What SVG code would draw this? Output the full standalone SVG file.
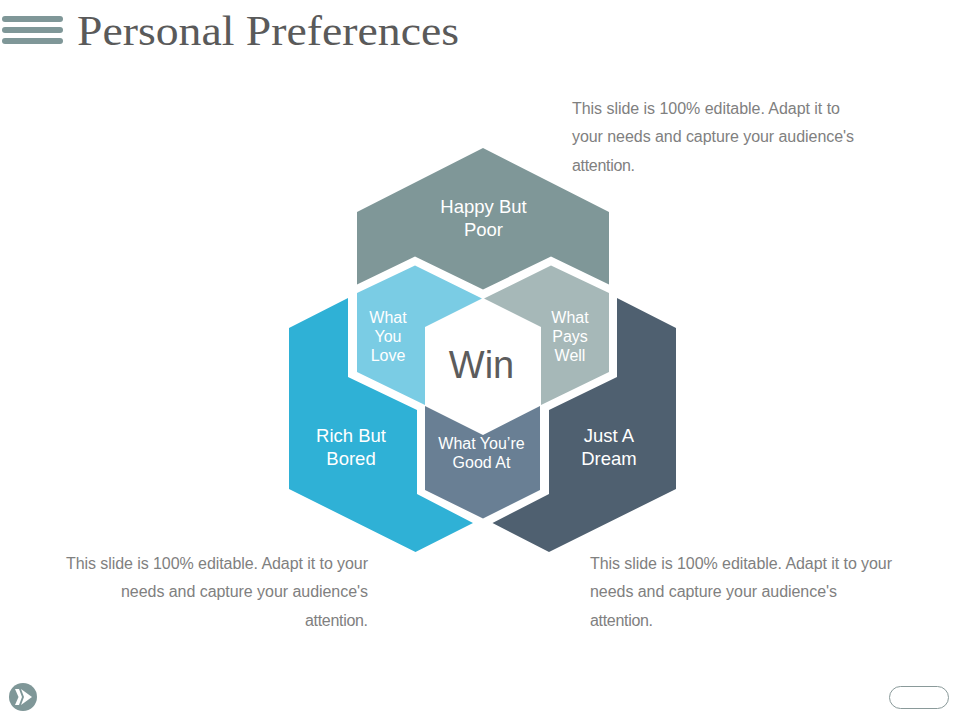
<svg xmlns="http://www.w3.org/2000/svg" width="960" height="720" viewBox="0 0 960 720">
<style>
text{font-family:"Liberation Sans",Arial,sans-serif}
.title{font-family:"Liberation Serif","Times New Roman",serif;font-size:42px;fill:#5a5a5a}
.body{font-size:16px;fill:#808080}
.r{text-anchor:end}
.big{font-size:18.5px;fill:#fff;text-anchor:middle}
.small{font-size:16px;fill:#fff;text-anchor:middle}
.bar{fill:#7f9798}
</style>
<rect width="960" height="720" fill="#fff"/>
<g id="header">
<rect class="bar" x="2" y="16" width="61" height="6" rx="3"/>
<rect class="bar" x="2" y="27" width="61" height="6" rx="3"/>
<rect class="bar" x="2" y="38" width="61" height="6" rx="3"/>
<text class="title" x="77" y="45" textLength="382" lengthAdjust="spacingAndGlyphs">Personal Preferences</text>
</g>
<g id="node-happy">
<polygon fill="#7f9798" points="483,148 609,212 609,284.500 551,256.500 483,289.500 415,256.500 357,284.500 357,212"/>
<text class="big" x="483.500" y="213">Happy But</text><text class="big" x="483.500" y="236">Poor</text>
</g>
<g id="node-rich">
<polygon fill="#2fb1d6" points="348,298 289,328 289,489 415.500,552 473,523 417,494 417,410 348,377"/>
<text class="big" x="351" y="442">Rich But</text><text class="big" x="351" y="465">Bored</text>
</g>
<g id="node-dream">
<polygon fill="#4f6070" points="617,298 676,328 676,489 549,552 492.500,523 549,494 549,410 617,377"/>
<text class="big" x="609" y="442">Just A</text><text class="big" x="609" y="465">Dream</text>
</g>
<g id="node-love">
<polygon fill="#7accE4" points="415,265.500 482,298.500 425,327 425,405 357,372 357,293"/>
<text class="small" x="388" y="323">What</text><text class="small" x="388" y="342">You</text><text class="small" x="388" y="361">Love</text>
</g>
<g id="node-pays">
<polygon fill="#a6b8b8" points="551,265.500 609,293 609,372 541,405 541,327 484,298.500"/>
<text class="small" x="570" y="323">What</text><text class="small" x="570" y="342">Pays</text><text class="small" x="570" y="361">Well</text>
</g>
<g id="node-good">
<polygon fill="#697f94" points="425,406 483,435 540,406 540,490 483,518.500 425,490"/>
<text class="small" x="481.500" y="449">What You’re</text><text class="small" x="481.500" y="468">Good At</text>
</g>
<g id="node-win">
<text x="481.500" y="378" font-size="38" fill="#5c5c5c" text-anchor="middle">Win</text>
</g>
<g id="connectors"></g>
<g id="note-top">
<text class="body" x="572" y="114" textLength="268">This slide is 100% editable. Adapt it to</text>
<text class="body" x="572" y="142" textLength="282">your needs and capture your audience's</text>
<text class="body" x="572" y="171" textLength="63">attention.</text>
</g>
<g id="note-left">
<text class="body" x="66" y="569" textLength="302">This slide is 100% editable. Adapt it to your</text>
<text class="body" x="121" y="597" textLength="247">needs and capture your audience's</text>
<text class="body" x="305" y="626" textLength="63">attention.</text>
</g>
<g id="note-right">
<text class="body" x="590" y="569" textLength="302">This slide is 100% editable. Adapt it to your</text>
<text class="body" x="590" y="597" textLength="247">needs and capture your audience's</text>
<text class="body" x="590" y="626" textLength="63">attention.</text>
</g>
<g id="nav-next">
<circle cx="23" cy="697" r="14" fill="#7f9798"/>
<polygon fill="#fff" points="21,689 32,697 21,705 24,697"/>
<polygon fill="#fff" points="15,689 19,689 22,697 19,705 15,705 18.500,697"/>
</g>
<g id="nav-pill">
<rect x="889.500" y="686.500" width="59" height="22" rx="11" fill="#fff" stroke="#8a9a9a" stroke-width="1"/>
</g>
</svg>
